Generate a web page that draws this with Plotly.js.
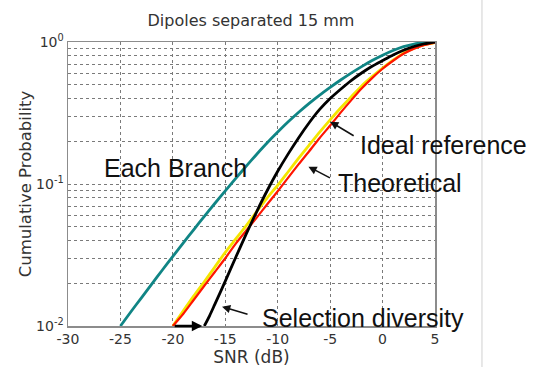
<!DOCTYPE html>
<html><head><meta charset="utf-8">
<script src="https://cdn.plot.ly/plotly-3.0.1.min.js"></script>
<style>body{margin:0;background:#fff}#chart{width:554px;height:367px}</style>
</head><body><div id="chart"></div>
<script>
// Each Branch (teal)
const branchX = [-25,-24,-23,-22,-21,-20,-19,-18,-17,-16,-15,-14,-13,-12,-11,-10,-9,-8,-7,-6,-5,-4,-3,-2,-1,0,1,2,3,4,5];
const branchY = [0.0100,0.0126,0.0158,0.0198,0.0248,0.0309,0.0385,0.0478,0.0592,0.0729,0.0895,0.1096,0.1337,0.162,0.195,0.232,0.274,0.320,0.370,0.423,0.479,0.540,0.604,0.671,0.740,0.807,0.871,0.927,0.968,0.991,1.0];
// Ideal reference (yellow)
const idealX = [-20,-19,-18,-17,-16,-15,-14,-13,-12,-11,-10,-9,-8,-7,-6,-5,-4,-3,-2,-1,0,1,2,3,4,5];
const idealY = [0.010,0.0128,0.0163,0.0205,0.026,0.033,0.041,0.051,0.064,0.080,0.098,0.122,0.152,0.188,0.232,0.283,0.343,0.41,0.49,0.57,0.655,0.745,0.835,0.905,0.958,0.99];
// Theoretical (red)
const theoX = [-20,-19,-18,-17,-16,-15,-14,-13,-12,-11,-10,-9,-8,-7,-6,-5,-4,-3,-2,-1,0,1,2,3,4,5];
const theoY = [0.010,0.0122,0.0153,0.0192,0.024,0.030,0.038,0.047,0.058,0.072,0.089,0.111,0.138,0.17,0.211,0.258,0.318,0.388,0.47,0.557,0.648,0.738,0.826,0.898,0.953,0.99];
// Selection diversity (black)
const selX = [-17,-16.5,-16,-15,-14,-13,-12,-11,-10,-9,-8,-7,-6,-5,-4,-3,-2,-1,0,1,2,3,4,5];
const selY = [0.010,0.0118,0.0142,0.0207,0.0305,0.0445,0.064,0.090,0.123,0.163,0.212,0.27,0.335,0.40,0.465,0.535,0.605,0.675,0.74,0.81,0.875,0.93,0.972,1.0];

const xTicks = [-30,-25,-20,-15,-10,-5,0,5];
const xTickText = ['-30','-25','-20','-15','-10','-5','0','5'];
const yTickVals = [0.01,0.02,0.03,0.04,0.05,0.06,0.07,0.08,0.09,0.1,0.2,0.3,0.4,0.5,0.6,0.7,0.8,0.9,1];
const yTickText = ['10<sup>-2</sup>','','','','','','','','','10<sup>-1</sup>','','','','','','','','','10<sup>0</sup>'];

const sp = {shape:'spline', smoothing:0.7};
const traces = [
  {x: branchX, y: branchY, mode:'lines', line:Object.assign({color:'#108585', width:2.8}, sp)},
  {x: idealX, y: idealY, mode:'lines', line:Object.assign({color:'#f4e600', width:2.8}, sp)},
  {x: theoX, y: theoY, mode:'lines', line:Object.assign({color:'#ff1500', width:2.2}, sp)},
  {x: selX, y: selY, mode:'lines', line:Object.assign({color:'#000000', width:2.8}, sp)}
];

const txtFont = {family:'Liberation Sans, Arial, sans-serif', size:25, color:'#111'};
const arrowBase = {text:'', showarrow:true, arrowhead:2, arrowsize:1.1, arrowwidth:1.5, arrowcolor:'#111', standoff:0, xref:'x', yref:'y', axref:'pixel', ayref:'pixel'};

const layout = {
  width:554, height:367,
  margin:{l:68, r:119, t:42, b:41},
  paper_bgcolor:'#fff', plot_bgcolor:'#fff',
  showlegend:false,
  title:{text:'Dipoles separated 15 mm', x:0.453, xanchor:'center', y:0.945, yanchor:'middle',
         font:{family:'DejaVu Sans, sans-serif', size:16, color:'#333'}},
  xaxis:{range:[-30,5], tickvals:xTicks, ticktext:xTickText, showgrid:true, griddash:'dot', gridcolor:'#7a7a7a', gridwidth:1,
         zeroline:false, showline:true, mirror:true, linecolor:'#8c8c8c', linewidth:1.5, ticks:'',
         tickfont:{family:'DejaVu Sans, sans-serif', size:14, color:'#333'},
         title:{text:'SNR (dB)', standoff:2, font:{family:'DejaVu Sans, sans-serif', size:17, color:'#333'}}},
  yaxis:{type:'log', range:[-2,0], tickvals:yTickVals, ticktext:yTickText, showgrid:true, griddash:'dot',
         gridcolor:'#7a7a7a', gridwidth:1, zeroline:false, showline:true, mirror:true, linecolor:'#8c8c8c',
         linewidth:1.5, ticks:'', tickfont:{family:'DejaVu Sans, sans-serif', size:14, color:'#333'},
         title:{text:'Cumulative Probability', standoff:0, font:{family:'DejaVu Sans, sans-serif', size:16.5, color:'#333'}}},
  shapes:[{type:'line', xref:'paper', yref:'paper', x0:1.128, x1:1.128, y0:-0.2, y1:1.2, line:{color:'#d0d0d0', width:1}}],
  annotations:[
    {text:'Each Branch', xref:'paper', yref:'paper', x:0.293, y:0.556, showarrow:false, xanchor:'center', yanchor:'middle', font:txtFont},
    {text:'Ideal reference', xref:'paper', yref:'paper', x:1.0245, y:0.637, showarrow:false, xanchor:'center', yanchor:'middle', font:txtFont},
    {text:'Theoretical', xref:'paper', yref:'paper', x:0.9046, y:0.5035, showarrow:false, xanchor:'center', yanchor:'middle', font:txtFont},
    {text:'Selection diversity', xref:'paper', yref:'paper', x:0.805, y:0.028, showarrow:false, xanchor:'center', yanchor:'middle', borderpad:0, font:txtFont},
    Object.assign({}, arrowBase, {x:-5.0, y:-0.561, ax:25, ay:15}),
    Object.assign({}, arrowBase, {x:-7.07, y:-0.878, ax:23, ay:12}),
    Object.assign({}, arrowBase, {x:-15.31, y:-1.864, ax:27, ay:8}),
    Object.assign({}, arrowBase, {x:-17.2, y:-2, ax:-29, ay:0, arrowcolor:'#000', arrowwidth:2.6, arrowsize:0.8})
  ]
};
Plotly.newPlot('chart', traces, layout, {displayModeBar:false, staticPlot:true});
</script></body></html>
